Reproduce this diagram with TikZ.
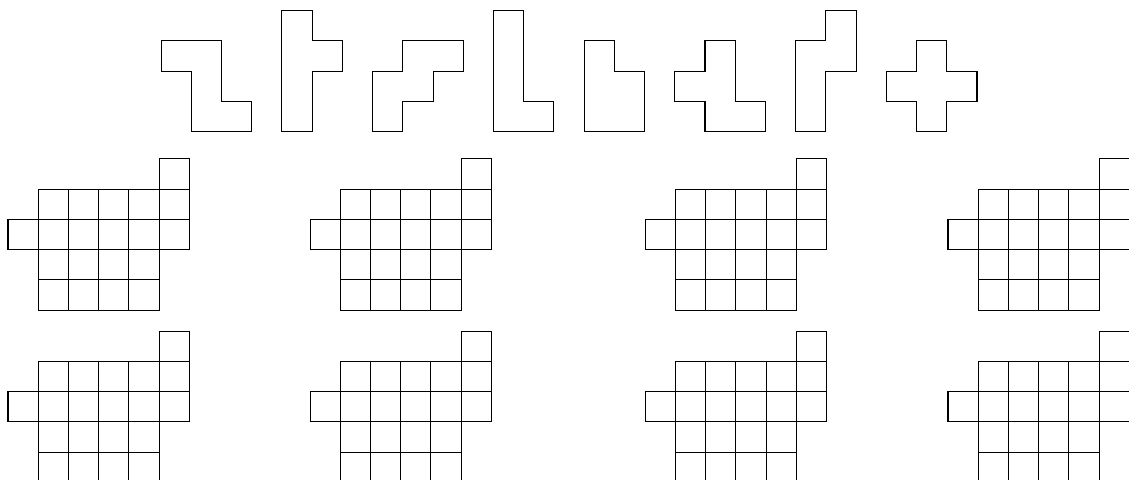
\documentclass[tikz,border=0pt]{standalone}
\usepackage{tikz}
\tikzset{
  piece/.style={draw,line width=0.6pt,line join=miter},
  cell/.style={draw,line width=0.6pt}
}

\begin{document}
\begin{tikzpicture}[x=0.6cm,y=0.6cm]
  \clip (0,0) rectangle (37.36,-15.88);
  % the eight pieces
  \begin{scope}[shift={(5.33,-0.354)}]
    \draw[piece] (0,-1)--(2,-1)--(2,-3)--(3,-3)--(3,-4)--(1,-4)--(1,-2)--(0,-2)--cycle;
  \end{scope}
  \begin{scope}[shift={(9.33,-0.354)}]
    \draw[piece] (0,0)--(1,0)--(1,-1)--(2,-1)--(2,-2)--(1,-2)--(1,-4)--(0,-4)--cycle;
  \end{scope}
  \begin{scope}[shift={(12.33,-0.354)}]
    \draw[piece] (1,-1)--(3,-1)--(3,-2)--(2,-2)--(2,-3)--(1,-3)--(1,-4)--(0,-4)--(0,-2)--(1,-2)--cycle;
  \end{scope}
  \begin{scope}[shift={(16.33,-0.354)}]
    \draw[piece] (0,0)--(1,0)--(1,-3)--(2,-3)--(2,-4)--(0,-4)--cycle;
  \end{scope}
  \begin{scope}[shift={(19.33,-0.354)}]
    \draw[piece] (0,-1)--(1,-1)--(1,-2)--(2,-2)--(2,-4)--(0,-4)--cycle;
  \end{scope}
  \begin{scope}[shift={(22.33,-0.354)}]
    \draw[piece] (1,-1)--(2,-1)--(2,-3)--(3,-3)--(3,-4)--(1,-4)--(1,-3)--(0,-3)--(0,-2)--(1,-2)--cycle;
  \end{scope}
  \begin{scope}[shift={(26.33,-0.354)}]
    \draw[piece] (1,0)--(2,0)--(2,-2)--(1,-2)--(1,-4)--(0,-4)--(0,-1)--(1,-1)--cycle;
  \end{scope}
  \begin{scope}[shift={(29.33,-0.354)}]
    \draw[piece] (1,-1)--(2,-1)--(2,-2)--(3,-2)--(3,-3)--(2,-3)--(2,-4)--(1,-4)--(1,-3)--(0,-3)--(0,-2)--(1,-2)--cycle;
  \end{scope}
  % the boards
  \foreach \bx in {0.265,10.26,21.35,31.37}
  \foreach \by in {-5.26,-10.96}{
    \begin{scope}[shift={(\bx,\by)}]
      \foreach \r/\cs in {0/{5},1/{1,2,3,4,5},2/{0,1,2,3,4,5},3/{1,2,3,4},4/{1,2,3,4}}
        \foreach \c in \cs \draw[cell] (\c,-\r) rectangle ++(1,-1);
    \end{scope}
  }
\end{tikzpicture}
\end{document}
